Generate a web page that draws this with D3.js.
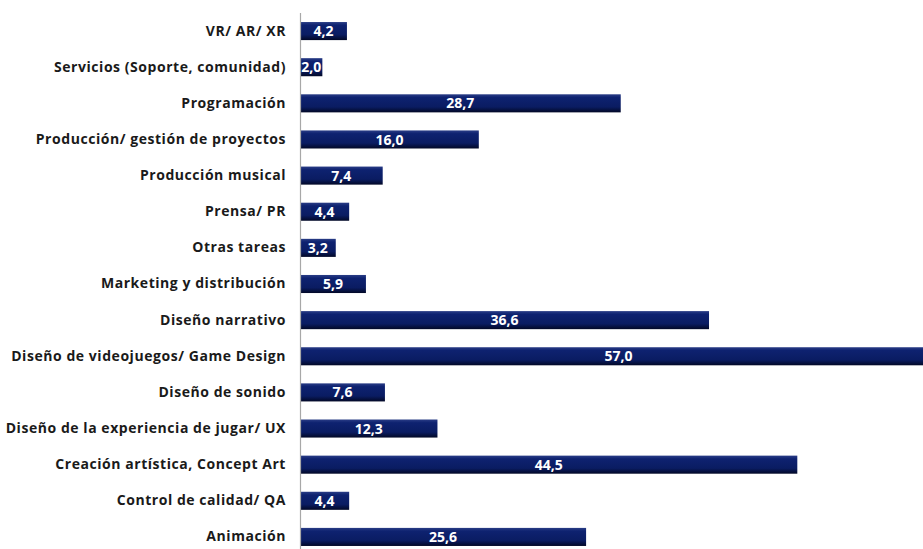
<!DOCTYPE html>
<html>
<head>
<meta charset="utf-8">
<script src="https://cdn.jsdelivr.net/npm/d3@7"></script>
<style>
  html, body { margin: 0; padding: 0; background: #ffffff; overflow: hidden; }
  svg { display: block; }
</style>
</head>
<body>
<svg id="chart" width="923" height="549"></svg>
<script>
// Áreas de trabajo y porcentaje correspondiente
const categories = [
  "VR/ AR/ XR",
  "Servicios (Soporte, comunidad)",
  "Programación",
  "Producción/ gestión de proyectos",
  "Producción musical",
  "Prensa/ PR",
  "Otras tareas",
  "Marketing y distribución",
  "Diseño narrativo",
  "Diseño de videojuegos/ Game Design",
  "Diseño de sonido",
  "Diseño de la experiencia de jugar/ UX",
  "Creación artística, Concept Art",
  "Control de calidad/ QA",
  "Animación"
];
const values = [4.2, 2.0, 28.7, 16.0, 7.4, 4.4, 3.2, 5.9, 36.6, 57.0, 7.6, 12.3, 44.5, 4.4, 25.6];

const svg = d3.select("#chart");
const fmt = v => d3.format(".1f")(v).replace(".", ",");
const FONT = "'Open Sans', Lato, sans-serif";

const x = d3.scaleLinear().domain([0, 57]).range([300, 937]);
const y = d3.scaleBand().domain(categories).range([13, 555]).paddingInner(0.5).paddingOuter(0.25);

// Degradado vertical de las barras
const defs = svg.append("defs");
const grad = defs.append("linearGradient").attr("id", "barGrad")
  .attr("x1", 0).attr("y1", 0).attr("x2", 0).attr("y2", 1);
grad.append("stop").attr("offset", "0%").attr("stop-color", "#2a3d86");
grad.append("stop").attr("offset", "18%").attr("stop-color", "#0e2270");
grad.append("stop").attr("offset", "70%").attr("stop-color", "#0a1c62");
grad.append("stop").attr("offset", "100%").attr("stop-color", "#020826");

const data = categories.map((c, i) => ({ c, v: values[i] }));

svg.append("g").selectAll("rect").data(data).enter().append("rect")
  .attr("x", x(0))
  .attr("y", d => y(d.c))
  .attr("width", d => x(d.v) - x(0))
  .attr("height", y.bandwidth())
  .attr("fill", "url(#barGrad)");

// Eje vertical con las categorías
const axis = d3.axisLeft(y).tickSize(0).tickPadding(14);
const ag = svg.append("g").attr("transform", `translate(${x(0)},0)`).call(axis);
ag.select(".domain").attr("stroke", "#a8a8a8").attr("stroke-width", 1.2)
  .attr("d", `M0.5,13V549`);
ag.selectAll("text")
  .attr("font-family", FONT)
  .attr("font-weight", "bold")
  .attr("font-size", 14)
  .attr("letter-spacing", "0.55px")
  .attr("fill", "#1a1a1a");

// Etiquetas de valor
svg.append("g").selectAll("text").data(data).enter().append("text")
  .attr("x", d => (x(0) + x(d.v)) / 2)
  .attr("y", d => y(d.c) + y.bandwidth() / 2)
  .attr("dy", "0.36em")
  .attr("text-anchor", "middle")
  .attr("font-family", FONT)
  .attr("font-weight", "bold")
  .attr("font-size", 14)
  .attr("fill", "#ffffff")
  .text(d => fmt(d.v));
</script>
</body>
</html>
